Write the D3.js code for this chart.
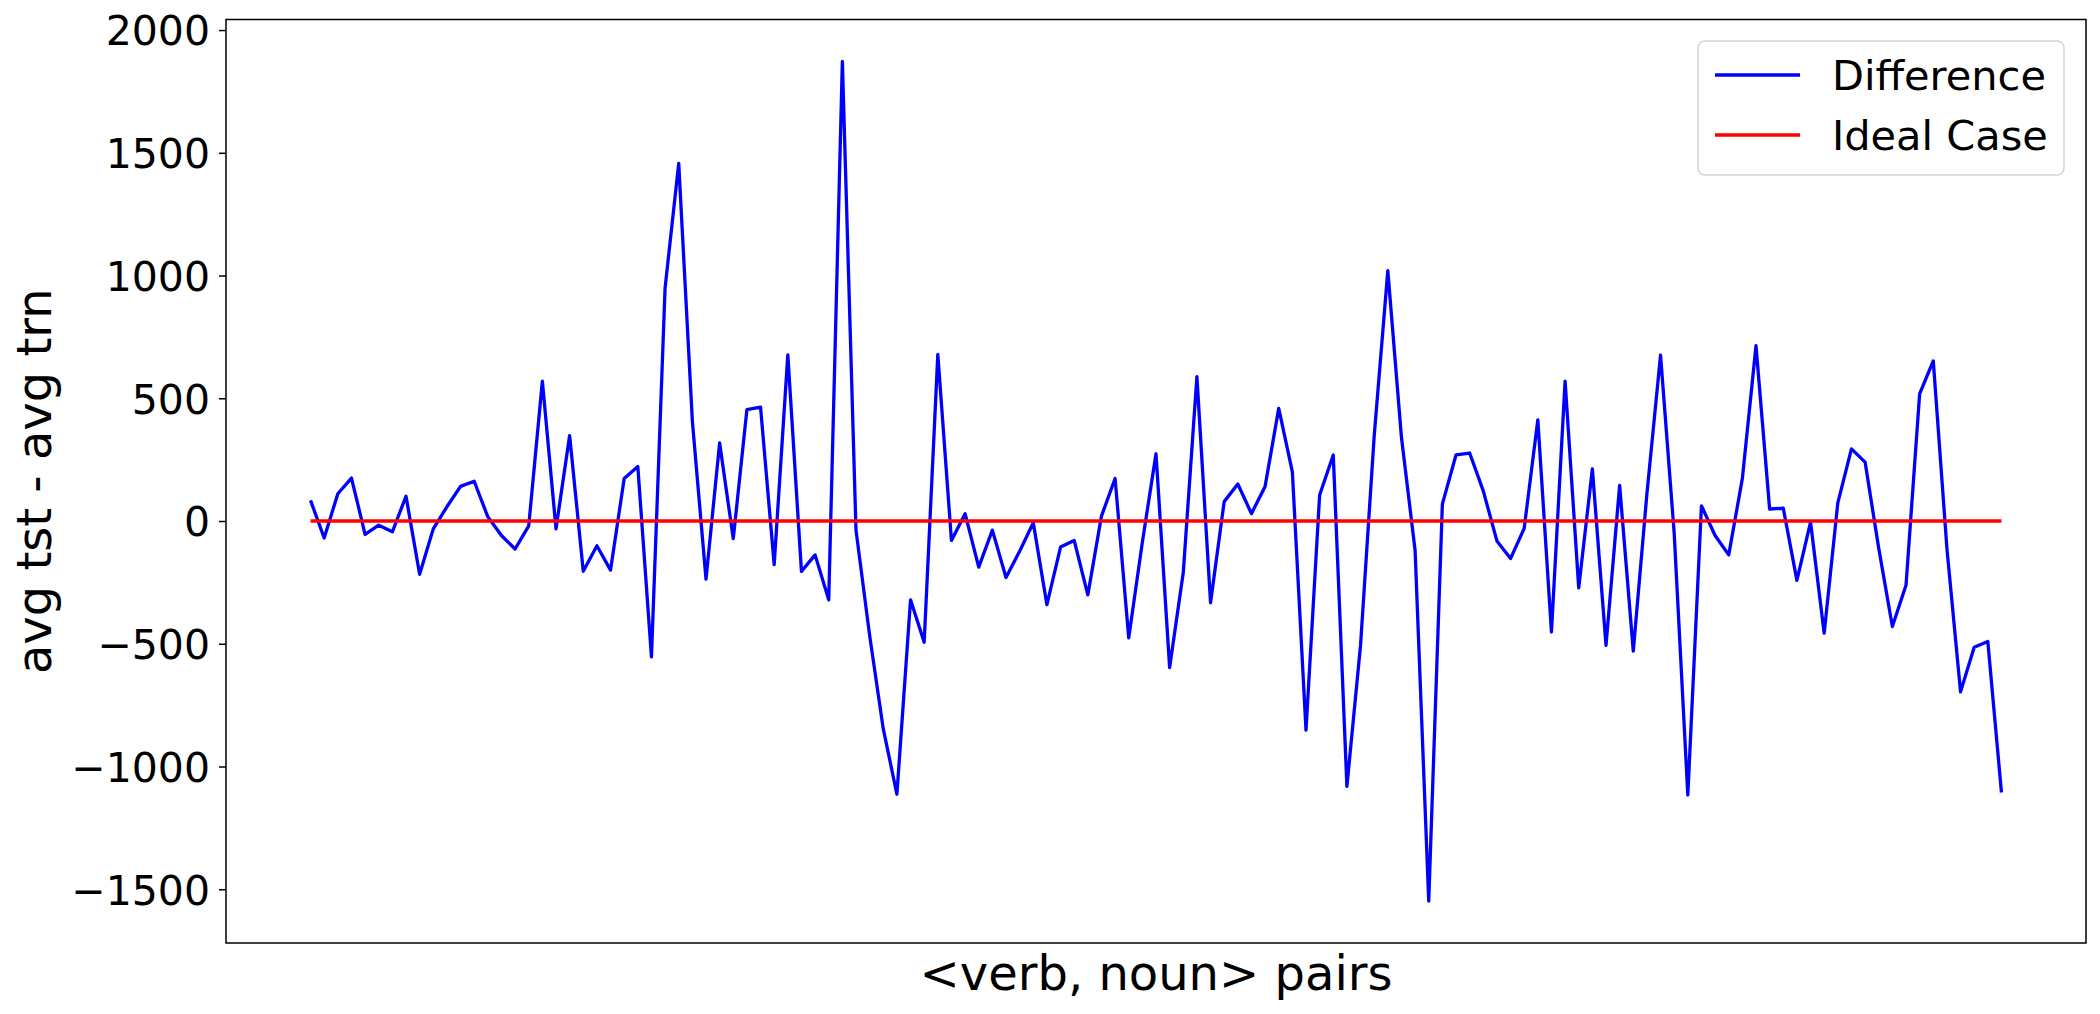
<!DOCTYPE html>
<html lang="en">
<head>
<meta charset="UTF-8">
<title>Difference chart</title>
<style>
body {
  margin: 0;
  background: #fff;
  font-family: 'DejaVu Sans', sans-serif;
}
.tick text {
  font-size: 41px;
  fill: #000;
}
.axis-label {
  font-size: 48px;
  fill: #000;
}
.legend text {
  font-size: 41.5px;
  fill: #000;
}
</style>
</head>
<body>
<div id="chart"></div>
<script src="https://cdnjs.cloudflare.com/ajax/libs/d3/7.8.5/d3.min.js"></script>
<script>

// avg tst - avg trn for each <verb, noun> pair
var difference = [
  84, -69, 111, 175, -54, -17, -44, 101, -217, -32,
  58, 141, 162, 17, -59, -114, -20, 570, -32, 348,
  -205, -101, -200, 173, 222, -553, 950, 1457, 407, -237,
  318, -72, 454, 464, -178, 677, -205, -138, -321, 1872,
  -37, -466, -847, -1113, -321, -494, 679, -79, 30, -188,
  -37, -230, -123, -7, -341, -106, -79, -301, 20, 173,
  -476, -86, 274, -597, -210, 588, -333, 79, 151, 30,
  141, 459, 200, -852, 106, 269, -1081, -506, 346, 1020,
  341, -119, -1548, 69, 269, 277, 123, -81, -153, -30,
  412, -452, 570, -272, 212, -507, 145, -530, 111, 676,
  -49, -1116, 62, -59, -138, 173, 714, 49, 52, -242,
  -5, -457, 74, 294, 240, -111, -430, -262, 518, 652,
  -111, -696, -514, -491, -1106
];

// ideal case: no difference at all
var ideal = difference.map(function () { return 0; });

var yTicks = [-1500, -1000, -500, 0, 500, 1000, 1500, 2000];

var seriesNames = ['Difference', 'Ideal Case'];
var seriesColors = ['#0000ff', '#ff0000'];

var width = 2100;
var height = 1014;
var margin = {top: 19.5, right: 14, bottom: 71, left: 226};

var svg = d3.select('#chart')
  .append('svg')
  .attr('width', width)
  .attr('height', height);

// matplotlib style 5% margins around the data
var n = difference.length;
var xPad = (n - 1) * 0.05;
var yExt = d3.extent(difference.concat(ideal));
var yPad = (yExt[1] - yExt[0]) * 0.05;

var x = d3.scaleLinear()
  .domain([-xPad, n - 1 + xPad])
  .range([margin.left, width - margin.right]);

var y = d3.scaleLinear()
  .domain([yExt[0] - yPad, yExt[1] + yPad])
  .range([height - margin.bottom, margin.top]);

var line = d3.line()
  .x(function (d, i) { return x(i); })
  .y(function (d) { return y(d); });

svg.append('path')
  .datum(difference)
  .attr('fill', 'none')
  .attr('stroke', seriesColors[0])
  .attr('stroke-width', 3.3)
  .attr('stroke-linejoin', 'round')
  .attr('d', line);

svg.append('path')
  .datum(ideal)
  .attr('fill', 'none')
  .attr('stroke', seriesColors[1])
  .attr('stroke-width', 3.3)
  .attr('d', line);

// y axis
var yAxis = svg.append('g')
  .attr('transform', 'translate(' + margin.left + ',0)')
  .call(d3.axisLeft(y).tickValues(yTicks).tickSize(7).tickPadding(9).tickFormat(d3.format('d')));
yAxis.select('.domain').remove();
yAxis.selectAll('.tick line').attr('stroke', '#000').attr('stroke-width', 1.5);
yAxis.selectAll('.tick text')
  .attr('font-family', 'DejaVu Sans')
  .attr('dy', '0.36em')
  .text(function (d) { return d < 0 ? '\u2212' + Math.abs(d) : d; });

// frame
svg.append('rect')
  .attr('x', margin.left)
  .attr('y', margin.top)
  .attr('width', width - margin.right - margin.left)
  .attr('height', height - margin.bottom - margin.top)
  .attr('fill', 'none')
  .attr('stroke', '#000')
  .attr('stroke-width', 1.5);

// axis labels
svg.append('text')
  .attr('class', 'axis-label')
  .attr('x', (margin.left + width - margin.right) / 2)
  .attr('y', 990)
  .attr('text-anchor', 'middle')
  .text('<verb, noun> pairs');

svg.append('text')
  .attr('class', 'axis-label')
  .attr('transform', 'translate(51,' + (margin.top + height - margin.bottom) / 2 + ') rotate(-90)')
  .attr('text-anchor', 'middle')
  .text('avg tst - avg trn');

// legend
var legend = svg.append('g')
  .attr('class', 'legend')
  .attr('transform', 'translate(1698,41)');

legend.append('rect')
  .attr('width', 366)
  .attr('height', 134)
  .attr('rx', 7)
  .attr('fill', '#fff')
  .attr('fill-opacity', 0.8)
  .attr('stroke', '#d5d5d5')
  .attr('stroke-width', 1.5);

var item = legend.selectAll('.item')
  .data(seriesNames)
  .enter()
  .append('g')
  .attr('class', 'item')
  .attr('transform', function (d, i) { return 'translate(0,' + (34 + i * 60) + ')'; });

item.append('line')
  .attr('x1', 17)
  .attr('x2', 102)
  .attr('stroke', function (d, i) { return seriesColors[i]; })
  .attr('stroke-width', 3.3);

item.append('text')
  .attr('x', 134)
  .attr('dy', '0.36em')
  .text(function (d) { return d; });

</script>
</body>
</html>
